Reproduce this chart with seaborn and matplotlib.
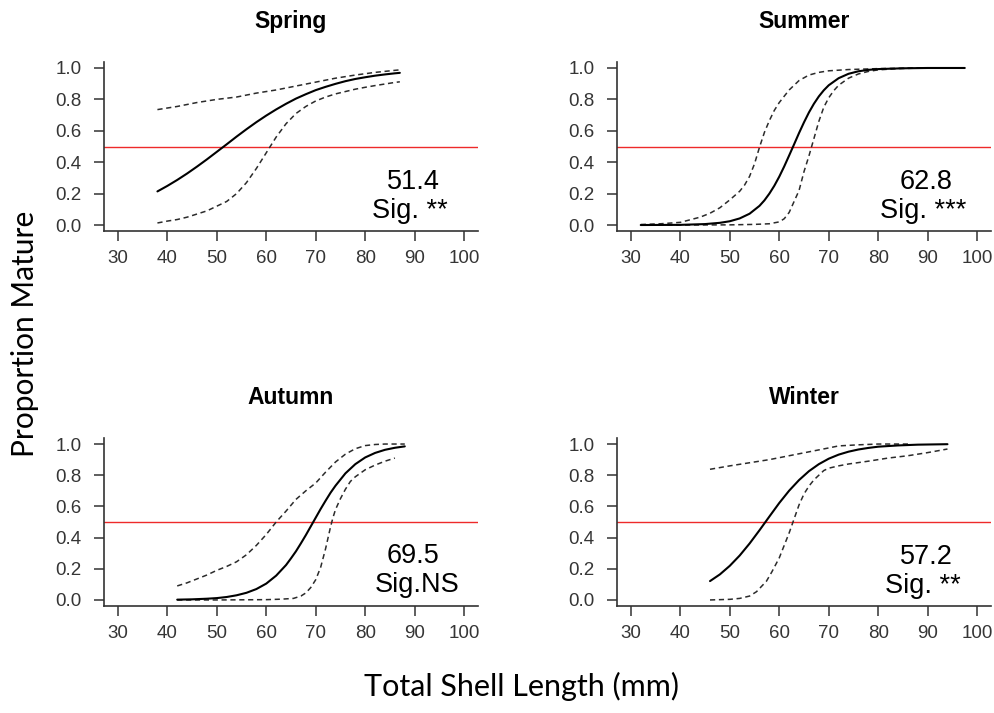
import matplotlib
matplotlib.use("Agg")
import matplotlib.pyplot as plt
import seaborn as sns
import pandas as pd

# ---- Maturity ogives by season: fitted curve with lower/upper 95% bounds ----
seasons = ["Spring", "Summer", "Autumn", "Winter"]
l50_labels = ["51.4", "62.8", "69.5", "57.2"]
sig_labels = ["Sig. **", "Sig. ***", "Sig.NS", "Sig. **"]

# Spring
spring_fit_x = [38, 40, 42, 44, 46, 48, 50, 52, 54, 56, 58, 60, 62, 64, 66, 68, 70, 72, 74, 76, 78, 80, 82, 84, 86, 87]
spring_fit_y = [0.214, 0.249, 0.287, 0.328, 0.372, 0.418, 0.466, 0.514, 0.563, 0.610, 0.655, 0.697, 0.736, 0.772,
                0.805, 0.833, 0.859, 0.880, 0.899, 0.916, 0.930, 0.941, 0.951, 0.959, 0.966, 0.969]
spring_up_x = [38, 42, 46, 50, 54, 58, 62, 66, 70, 74, 78, 82, 86, 87]
spring_up_y = [0.735, 0.755, 0.78, 0.80, 0.815, 0.84, 0.86, 0.885, 0.91, 0.935, 0.955, 0.972, 0.985, 0.988]
spring_lo_x = [38, 40, 42, 44, 46, 48, 50, 52, 54, 56, 58, 60, 62, 64, 66, 68, 70, 72, 74, 76, 78, 80, 82, 84, 86, 87]
spring_lo_y = [0.013, 0.025, 0.035, 0.05, 0.07, 0.09, 0.12, 0.15, 0.20, 0.27, 0.36, 0.46, 0.56, 0.645, 0.71, 0.755,
               0.79, 0.815, 0.835, 0.85, 0.865, 0.877, 0.888, 0.898, 0.908, 0.912]

# Summer
summer_fit_x = [32, 40, 45, 48, 50, 52, 54, 56, 57, 58, 59, 60, 61, 62, 63, 64, 65, 66, 67, 68, 69, 70, 72, 74, 76,
                78, 80, 85, 90, 97.5]
summer_fit_y = [0.000, 0.001, 0.006, 0.014, 0.024, 0.042, 0.072, 0.122, 0.157, 0.200, 0.250, 0.308, 0.373, 0.443,
                0.514, 0.586, 0.654, 0.717, 0.772, 0.819, 0.858, 0.890, 0.935, 0.963, 0.979, 0.988, 0.993, 0.998,
                1.000, 1.000]
summer_up_x = [32, 36, 40, 44, 46, 48, 50, 52, 53, 54, 55, 56, 57, 58, 59, 60, 61, 62, 63, 64, 66, 68, 70, 74, 80, 89]
summer_up_y = [0.003, 0.008, 0.017, 0.05, 0.075, 0.11, 0.16, 0.215, 0.255, 0.31, 0.39, 0.495, 0.59, 0.665, 0.73,
               0.78, 0.82, 0.86, 0.89, 0.92, 0.955, 0.972, 0.982, 0.99, 0.996, 1.0]
summer_lo_x = [32, 40, 50, 55, 58, 60, 61, 62, 63, 64, 65, 66, 66.5, 67, 68, 69, 70, 71, 72, 74, 76, 78, 80, 84, 89]
summer_lo_y = [0.0, 0.0, 0.001, 0.004, 0.008, 0.02, 0.04, 0.08, 0.15, 0.22, 0.34, 0.44, 0.495, 0.55, 0.66, 0.75,
               0.81, 0.855, 0.89, 0.935, 0.962, 0.978, 0.988, 0.996, 1.0]

# Autumn
autumn_fit_x = [42, 45, 48, 50, 52, 54, 56, 58, 60, 62, 64, 65, 66, 67, 68, 69, 70, 71, 72, 73, 74, 76, 78, 80, 82,
                84, 86, 88]
autumn_fit_y = [0.002, 0.004, 0.008, 0.012, 0.019, 0.030, 0.046, 0.070, 0.105, 0.156, 0.224, 0.267, 0.312, 0.363,
                0.416, 0.472, 0.528, 0.584, 0.637, 0.688, 0.733, 0.812, 0.871, 0.914, 0.943, 0.963, 0.976, 0.985]
autumn_up_x = [42, 44, 46, 48, 50, 52, 54, 56, 58, 60, 62, 64, 66, 68, 70, 72, 74, 76, 78, 80, 82, 84, 88]
autumn_up_y = [0.09, 0.11, 0.135, 0.16, 0.19, 0.215, 0.245, 0.29, 0.35, 0.42, 0.50, 0.57, 0.645, 0.70, 0.75, 0.82,
               0.885, 0.935, 0.97, 0.99, 0.997, 1.0, 1.0]
autumn_lo_x = [42, 50, 55, 60, 63, 65.5, 67, 68, 69, 70, 71, 72, 73, 73.5, 74, 75, 76, 77, 78, 80, 82, 84, 86]
autumn_lo_y = [0.0, 0.0, 0.001, 0.002, 0.005, 0.01, 0.025, 0.045, 0.08, 0.13, 0.21, 0.33, 0.47, 0.53, 0.58, 0.65,
               0.71, 0.76, 0.79, 0.835, 0.865, 0.89, 0.91]

# Winter
winter_fit_x = [46, 48, 50, 52, 54, 56, 58, 60, 62, 64, 66, 68, 70, 72, 74, 76, 78, 80, 84, 88, 94]
winter_fit_y = [0.121, 0.164, 0.219, 0.285, 0.362, 0.447, 0.535, 0.622, 0.701, 0.769, 0.826, 0.871, 0.906, 0.932,
                0.951, 0.965, 0.975, 0.983, 0.991, 0.996, 0.999]
winter_up_x = [46, 50, 54, 58, 62, 66, 70, 72, 76, 80, 86.4]
winter_up_y = [0.838, 0.86, 0.88, 0.90, 0.925, 0.95, 0.975, 0.988, 0.995, 1.0, 1.0]
winter_lo_x = [46, 48, 50, 52, 54, 55.4, 56.5, 57.4, 58.5, 60, 61, 62, 63, 64, 65, 66, 67, 68, 69, 70, 72, 74, 78,
               82, 86, 90, 94]
winter_lo_y = [0.0, 0.002, 0.004, 0.01, 0.025, 0.053, 0.09, 0.12, 0.18, 0.27, 0.35, 0.43, 0.52, 0.61, 0.68, 0.73,
               0.77, 0.80, 0.83, 0.845, 0.86, 0.872, 0.89, 0.91, 0.925, 0.945, 0.968]

x_ticks = [30, 40, 50, 60, 70, 80, 90, 100]
y_ticks = [0.0, 0.2, 0.4, 0.6, 0.8, 1.0]
half_maturity = 0.5

curves = {
    "Spring": [(spring_fit_x, spring_fit_y, "fit"), (spring_up_x, spring_up_y, "upper"), (spring_lo_x, spring_lo_y, "lower")],
    "Summer": [(summer_fit_x, summer_fit_y, "fit"), (summer_up_x, summer_up_y, "upper"), (summer_lo_x, summer_lo_y, "lower")],
    "Autumn": [(autumn_fit_x, autumn_fit_y, "fit"), (autumn_up_x, autumn_up_y, "upper"), (autumn_lo_x, autumn_lo_y, "lower")],
    "Winter": [(winter_fit_x, winter_fit_y, "fit"), (winter_up_x, winter_up_y, "upper"), (winter_lo_x, winter_lo_y, "lower")],
}

rows = []
for season, parts in curves.items():
    for xs, ys, kind in parts:
        for xv, yv in zip(xs, ys):
            rows.append({"season": season, "curve": kind, "length": xv, "prop": yv})
df = pd.DataFrame(rows)

sns.set_style("ticks")
plt.rcParams["font.family"] = ["Liberation Sans", "DejaVu Sans"]

W, H = 994, 713
fig = plt.figure(figsize=(W / 100, H / 100), dpi=100)

ink = "#333333"
# panel boxes in pixels: left, top, right, bottom
boxes = {
    "Spring": (104, 61.7, 478, 231.3),
    "Summer": (617, 61.7, 991, 231.3),
    "Autumn": (104, 437.8, 478, 606.2),
    "Winter": (617, 437.8, 991, 606.2),
}
text_pos = {
    "Spring": ((89.7, 0.227), (89.0, 0.043)),
    "Summer": ((89.7, 0.227), (89.1, 0.043)),
    "Autumn": ((89.6, 0.235), (90.5, 0.053)),
    "Winter": ((89.7, 0.230), (89.0, 0.047)),
}

for season, l50, sig in zip(seasons, l50_labels, sig_labels):
    l, t, r, b = boxes[season]
    ax = fig.add_axes([l / W, 1 - b / H, (r - l) / W, (b - t) / H])
    sub = df[df["season"] == season]
    ax.axhline(half_maturity, color="#ee2a2a", lw=1.0, zorder=1)
    sns.lineplot(data=sub[sub["curve"] == "fit"], x="length", y="prop", ax=ax,
                 color="black", lw=1.5, estimator=None, sort=True, zorder=3)
    for kind in ["upper", "lower"]:
        sns.lineplot(data=sub[sub["curve"] == kind], x="length", y="prop", ax=ax,
                     color="#2b2b2b", lw=1.1, estimator=None, sort=True, zorder=2,
                     dashes=False, linestyle=(0, (3.4, 2.4)))
    ax.set_xlim(27.2, 102.8)
    ax.set_ylim(-0.04, 1.04)
    ax.set_xticks(x_ticks)
    ax.set_yticks(y_ticks)
    ax.set_xticklabels([str(v) for v in x_ticks])
    ax.set_yticklabels([f"{v:.1f}" for v in y_ticks])
    ax.set_xlabel("")
    ax.set_ylabel("")
    for side in ["top", "right"]:
        ax.spines[side].set_visible(False)
    for side in ["left", "bottom"]:
        ax.spines[side].set_color(ink)
        ax.spines[side].set_linewidth(1.2)
    ax.tick_params(axis="both", colors=ink, width=1.1, length=7.5, labelsize=13.5, labelcolor="#353535")
    ax.tick_params(axis="x", pad=6)
    ax.tick_params(axis="y", pad=8.5)
    ax.set_title(season, fontsize=16.5, fontweight="bold", pad=24, color="black")
    (tx1, ty1), (tx2, ty2) = text_pos[season]
    ax.text(tx1, ty1, l50, ha="center", va="baseline", fontsize=19.5, color="black")
    ax.text(tx2, ty2, sig, ha="center", va="baseline", fontsize=19.5, color="black")

fig.text(25.5 / W, 1 - 334 / H, "Proportion Mature", rotation=90, ha="center", va="center",
         fontsize=21.5, family=["Lato", "DejaVu Sans"], color="black")
fig.text(522 / W, 1 - 696 / H, "Total Shell Length (mm)", ha="center", va="baseline",
         fontsize=22, family=["Lato", "DejaVu Sans"], color="black")

fig.savefig("out.png", dpi=100)
